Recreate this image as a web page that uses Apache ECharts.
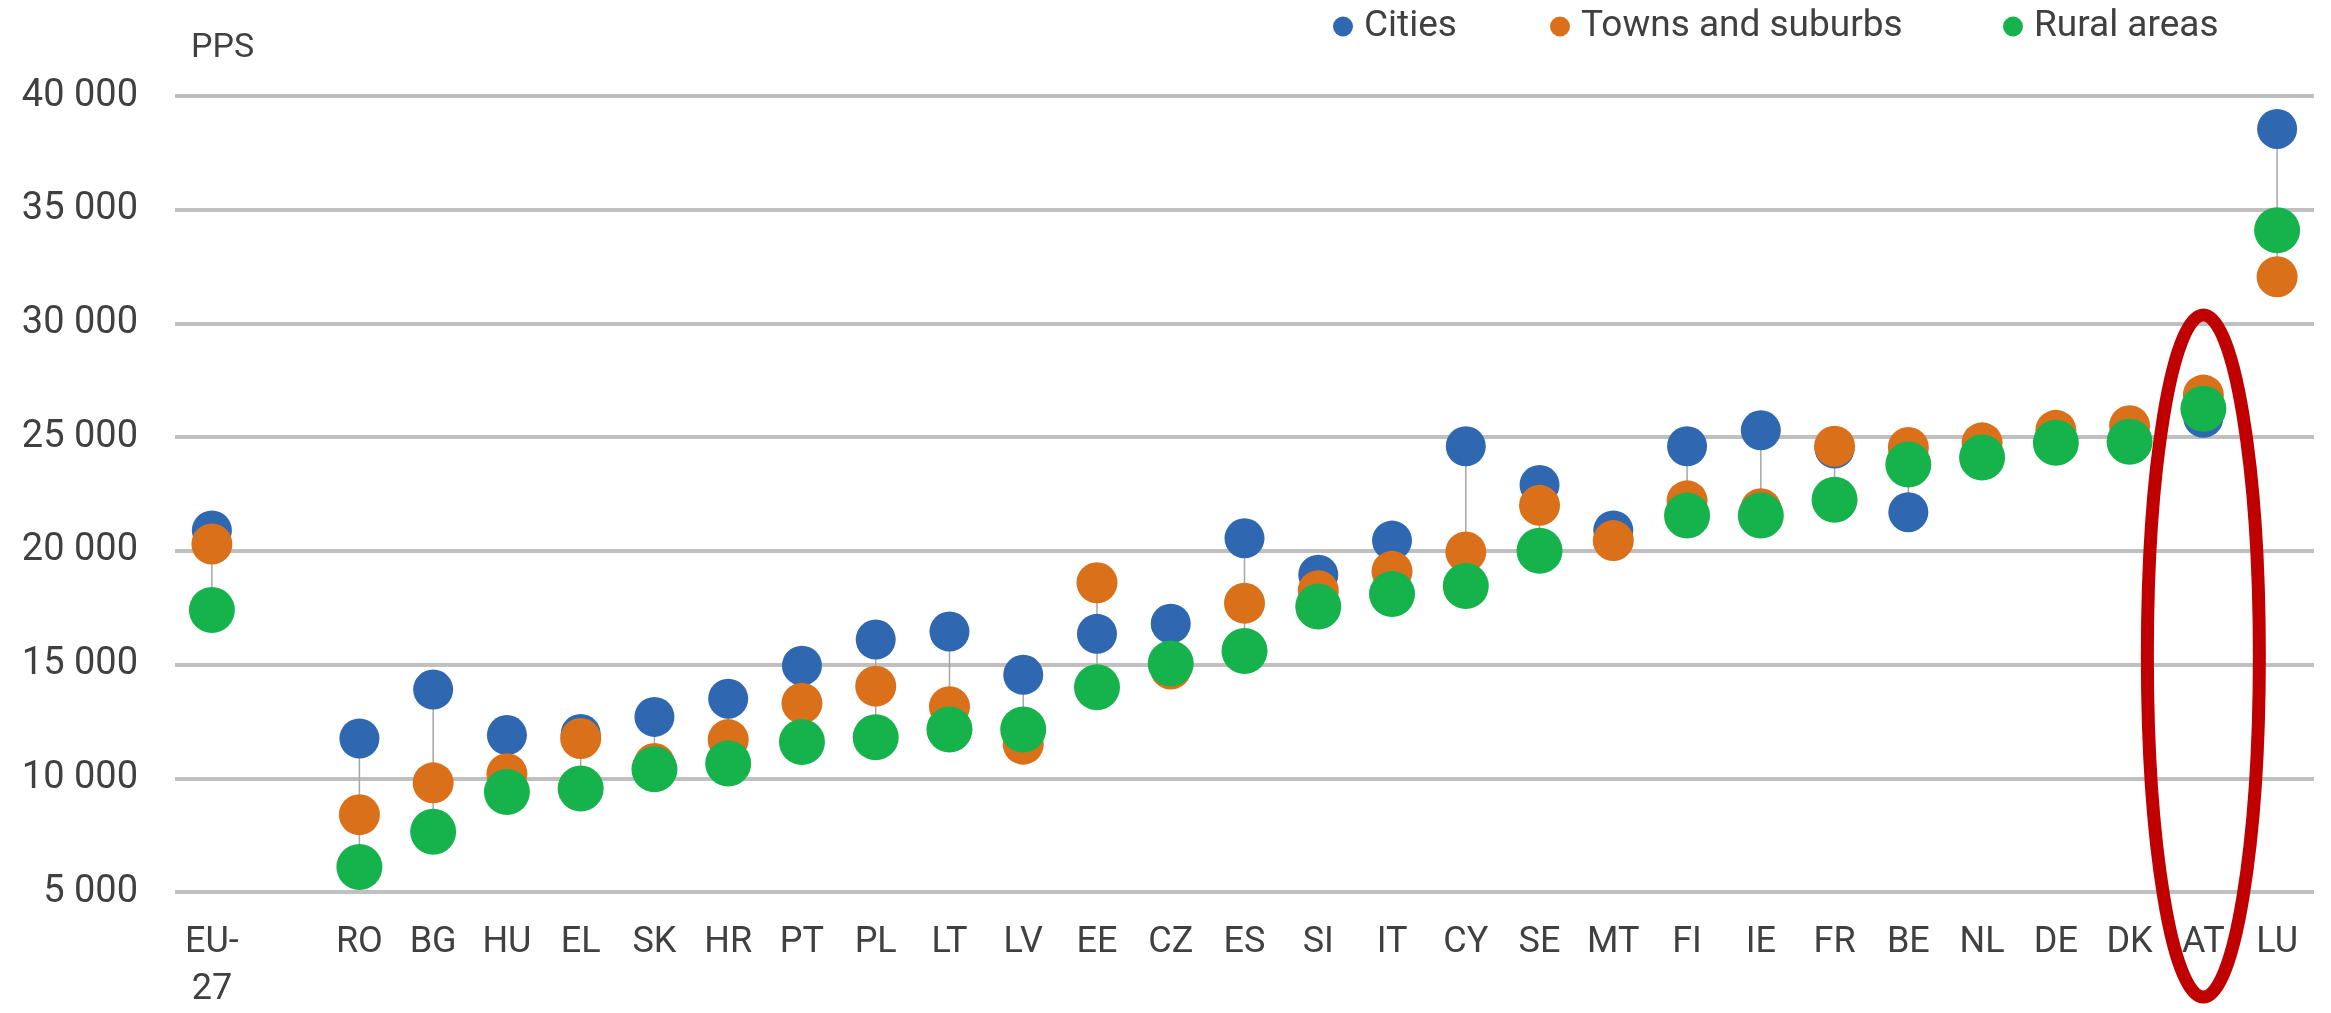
<!DOCTYPE html>
<html>
<head>
<meta charset="utf-8">
<script src="https://cdn.jsdelivr.net/npm/echarts@6/dist/echarts.min.js"></script>
<style>
    html, body { margin: 0; padding: 0; background: #ffffff; }
    #chart { width: 2331px; height: 1013px; }
</style>
</head>
<body>
<div id="chart"></div>
<script>
// categories (empty slot between EU-27 and the countries)
var countries = ['EU-27', '', 'RO', 'BG', 'HU', 'EL', 'SK', 'HR', 'PT', 'PL', 'LT', 'LV', 'EE', 'CZ', 'ES',
    'SI', 'IT', 'CY', 'SE', 'MT', 'FI', 'IE', 'FR', 'BE', 'NL', 'DE', 'DK', 'AT', 'LU'];
var cities = [20900, null, 11750, 13900, 11900, 11950, 12700, 13500, 14950, 16100, 16450, 14550, 16350, 16800, 20550,
    18950, 20450, 24600, 22900, 20900, 24600, 25300, 24500, 21700, 24200, 24800, 24900, 25850, 38550];
var towns = [20300, null, 8400, 9800, 10200, 11750, 10650, 11700, 13300, 14050, 13150, 11500, 18600, 14800, 17700,
    18250, 19100, 19950, 22000, 20450, 22200, 21850, 24600, 24550, 24750, 25300, 25500, 26850, 32050];
var rural = [17400, null, 6100, 7650, 9400, 9550, 10400, 10650, 11600, 11800, 12150, 12150, 14000, 15050, 15600,
    17550, 18100, 18450, 20000, null, 21550, 21550, 22250, 23800, 24100, 24750, 24800, 26250, 34100];
var seriesNames = ['Cities', 'Towns and suburbs', 'Rural areas'];

var textColor = '#404040';
var fontName = 'Roboto';

// high-low line data: [index, min, max]
var rangeData = [];
countries.forEach(function (c, i) {
    var vals = [cities[i], towns[i], rural[i]].filter(function (v) {
        return v !== null;
    });
    if (vals.length > 1) {
        rangeData.push([i, Math.min.apply(null, vals), Math.max.apply(null, vals)]);
    }
});

function dotSeries(name, data, color, size) {
    return {
        name: name,
        type: 'scatter',
        symbol: 'circle',
        symbolSize: size,
        itemStyle: {color: color, opacity: 1},
        z: 3,
        data: data
    };
}

function legendItem(name, left) {
    return {
        data: [name],
        left: left,
        top: 8,
        padding: 0,
        icon: 'circle',
        itemWidth: 20,
        itemHeight: 20,
        textStyle: {
            fontFamily: fontName,
            fontSize: 37,
            color: textColor,
            padding: [0, 0, 0, 6]
        }
    };
}

var chartBox = document.getElementById('chart');
var myChart = echarts.init(chartBox);
var option = {
    animation: false,
    backgroundColor: '#ffffff',
    legend: [
        legendItem(seriesNames[0], 1333),
        legendItem(seriesNames[1], 1550),
        legendItem(seriesNames[2], 2003)
    ],
    grid: {
        left: 175,
        right: 17,
        top: 96,
        bottom: 111,
        containLabel: false
    },
    xAxis: {
        type: 'category',
        data: countries,
        axisLine: {show: false},
        axisTick: {show: false},
        axisLabel: {
            interval: 0,
            margin: 27,
            fontFamily: fontName,
            fontSize: 36,
            lineHeight: 47,
            color: textColor,
            formatter: function (v) {
                return v.replace('EU-', 'EU-\n');
            }
        },
        splitLine: {show: false}
    },
    yAxis: {
        type: 'value',
        min: 5000,
        max: 40000,
        interval: 5000,
        name: 'PPS',
        nameLocation: 'end',
        nameGap: 48,
        nameTextStyle: {
            fontFamily: fontName,
            fontSize: 34,
            color: textColor,
            align: 'left',
            verticalAlign: 'middle',
            padding: [0, 0, 0, 16]
        },
        axisLine: {show: false},
        axisTick: {show: false},
        axisLabel: {
            margin: 37,
            fontFamily: fontName,
            fontSize: 38,
            color: textColor,
            formatter: function (v) {
                return String(v).replace(/\B(?=(\d{3})+(?!\d))/g, ' ');
            }
        },
        splitLine: {
            show: true,
            lineStyle: {color: '#C0C0C0', width: 4}
        }
    },
    series: [
        {
            name: 'range',
            type: 'custom',
            z: 1,
            silent: true,
            renderItem: function (params, api) {
                var p1 = api.coord([api.value(0), api.value(1)]);
                var p2 = api.coord([api.value(0), api.value(2)]);
                return {
                    type: 'line',
                    shape: {x1: p1[0], y1: p1[1], x2: p2[0], y2: p2[1]},
                    style: {stroke: '#A6A6A6', lineWidth: 1.5}
                };
            },
            data: rangeData
        },
        dotSeries(seriesNames[0], cities, '#2F67B1', 40),
        dotSeries(seriesNames[1], towns, '#DA701A', 41),
        dotSeries(seriesNames[2], rural, '#16B24C', 46)
    ]
};
myChart.setOption(option);

// red highlight ellipse around AT
var atX = myChart.convertToPixel({xAxisIndex: 0}, 'AT');
myChart.setOption({
    graphic: [{
        type: 'ellipse',
        shape: {cx: atX, cy: 656, rx: 56, ry: 341},
        style: {fill: 'none', stroke: '#C00000', lineWidth: 13},
        z: 100
    }]
});
</script>
</body>
</html>
